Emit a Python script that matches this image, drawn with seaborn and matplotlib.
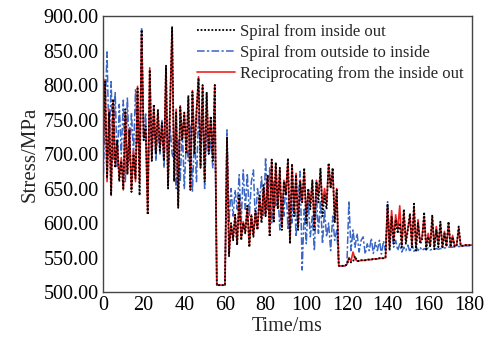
import numpy as np
import pandas as pd
import matplotlib
matplotlib.use("Agg")
import matplotlib.pyplot as plt
import seaborn as sns
from matplotlib.ticker import MultipleLocator, FormatStrFormatter

# Time axis (ms), one sample per ms
time_ms = np.arange(0, 183)

# Spiral from inside out (black dotted)
inside_out = [
    700, 805, 665, 760, 640, 780, 680, 720, 660, 690,
    650, 765, 670, 735, 645, 700, 665, 795, 640, 880,
    720, 740, 612, 822, 690, 772, 700, 765, 705, 745,
    690, 828, 650, 770, 885, 660, 760, 622, 768, 720,
    760, 700, 785, 648, 790, 700, 760, 810, 680, 800,
    660, 790, 700, 755, 690, 800, 510, 510, 510, 510,
    510, 725, 552, 600, 575, 612, 568, 640, 575, 600,
    585, 625, 565, 610, 580, 618, 590, 640, 600, 655,
    610, 670, 580, 692, 600, 688, 620, 680, 590, 660,
    640, 694, 570, 686, 610, 670, 590, 660, 630, 680,
    600, 650, 620, 662, 590, 660, 630, 680, 610, 640,
    620, 687, 650, 680, 600, 648, 538, 538, 538, 538,
    540, 548, 543, 544, 552, 545, 545, 546, 546, 546,
    547, 547, 547, 548, 548, 548, 549, 549, 549, 550,
    628, 560, 610, 570, 605, 585, 600, 565, 620, 570,
    590, 614, 565, 628, 560, 600, 570, 575, 616, 562,
    580, 565, 612, 562, 590, 565, 602, 563, 585, 566,
    602, 565, 580, 566, 567, 595, 567, 567, 568, 568,
    568, 568, 568,
]

# Spiral from outside to inside (blue dash-dot)
outside_in = [
    650, 760, 848, 700, 805, 690, 790, 680, 772, 700,
    778, 660, 782, 690, 760, 700, 793, 720, 700, 883,
    720, 760, 640, 780, 700, 760, 690, 740, 700, 750,
    680, 760, 670, 740, 700, 690, 650, 720, 660, 740,
    650, 720, 690, 740, 645, 730, 660, 760, 700, 778,
    650, 740, 700, 720, 680, 760, 510, 510, 510, 510,
    510, 735, 600, 650, 610, 648, 620, 670, 600, 677,
    620, 672, 610, 660, 677, 600, 650, 630, 667, 610,
    695, 620, 680, 600, 660, 625, 650, 590, 640, 610,
    660, 590, 640, 600, 650, 580, 630, 675, 532, 620,
    570, 630, 580, 610, 560, 640, 585, 633, 570, 620,
    580, 600, 560, 610, 575, 590, 538, 538, 538, 538,
    540, 632, 560, 590, 565, 585, 558, 575, 580, 555,
    570, 560, 578, 556, 572, 560, 575, 555, 574, 560,
    631, 570, 600, 565, 575, 560, 570, 558, 565, 560,
    568, 558, 570, 559, 566, 560, 565, 560, 563, 561,
    564, 561, 562, 562, 563, 562, 563, 563, 564, 564,
    565, 565, 565, 566, 566, 566, 566, 567, 567, 567,
    567, 567, 567,
]

# Reciprocating from the inside out (red solid)
reciprocating = [
    690, 808, 660, 765, 640, 775, 685, 715, 665, 695,
    648, 760, 672, 738, 648, 705, 660, 798, 660, 875,
    725, 735, 615, 825, 692, 770, 705, 760, 710, 742,
    695, 825, 655, 772, 882, 662, 765, 625, 770, 722,
    758, 705, 780, 650, 792, 705, 762, 812, 682, 798,
    665, 788, 705, 752, 695, 800, 510, 510, 510, 510,
    510, 722, 555, 598, 578, 610, 570, 636, 578, 602,
    588, 622, 568, 612, 583, 615, 592, 636, 605, 650,
    612, 668, 585, 690, 604, 686, 622, 678, 594, 662,
    645, 690, 575, 684, 615, 672, 595, 662, 632, 676,
    605, 648, 628, 660, 595, 662, 640, 676, 625, 650,
    628, 684, 652, 678, 605, 650, 538, 538, 538, 538,
    540, 550, 545, 558, 548, 545, 545, 546, 546, 546,
    547, 547, 547, 548, 548, 548, 549, 549, 549, 550,
    622, 565, 618, 575, 612, 590, 625, 568, 615, 575,
    592, 610, 568, 622, 565, 605, 572, 580, 610, 565,
    585, 568, 608, 565, 595, 568, 600, 566, 588, 567,
    600, 566, 582, 567, 568, 592, 567, 567, 568, 568,
    568, 568, 568,
]

labels = ["Spiral from inside out", "Spiral from outside to inside",
          "Reciprocating from the inside out"]

sns.set_style("white")
plt.rcParams['font.family'] = ['Liberation Serif', 'DejaVu Serif']

fig = plt.figure(figsize=(4.87, 3.44), dpi=100)
ax = fig.add_axes([0.2115, 0.151, 0.7575, 0.8025])

# draw blue first, red, then black dotted on top
sns.lineplot(x=time_ms, y=outside_in, ax=ax, color="#3a66c4", lw=1.1,
             linestyle=(0, (5, 1.5, 1.5, 1.5)), estimator=None, sort=False)
sns.lineplot(x=time_ms, y=reciprocating, ax=ax, color="#ee2222", lw=1.2,
             linestyle="-", estimator=None, sort=False)
sns.lineplot(x=time_ms, y=inside_out, ax=ax, color="black", lw=1.3,
             linestyle=(0, (1, 1)), estimator=None, sort=False)

lines = ax.get_lines()
handles = [lines[2], lines[0], lines[1]]
ax.legend(handles, labels, loc="upper right", frameon=False, fontsize=12,
          handlelength=2.3, labelspacing=0.3, borderaxespad=0.1,
          handletextpad=0.3)

ax.set_xlim(0, 181.5)
ax.set_ylim(500, 900)
ax.xaxis.set_major_locator(MultipleLocator(20))
ax.xaxis.set_minor_locator(MultipleLocator(10))
ax.yaxis.set_major_locator(MultipleLocator(50))
ax.yaxis.set_minor_locator(MultipleLocator(25))
ax.yaxis.set_major_formatter(FormatStrFormatter("%.2f"))
ax.tick_params(which="both", direction="in", top=False, right=False,
               labelsize=14.5, colors="#333333", labelcolor="black", pad=3)
ax.tick_params(which="major", length=4)
ax.tick_params(which="minor", length=2)
for s in ax.spines.values():
    s.set_color("#444444")
    s.set_linewidth(1.0)

ax.set_xlabel("Time/ms", fontsize=14.5, labelpad=1)
ax.set_ylabel("Stress/MPa", fontsize=15, labelpad=3)

fig.savefig("out.png", dpi=100)
